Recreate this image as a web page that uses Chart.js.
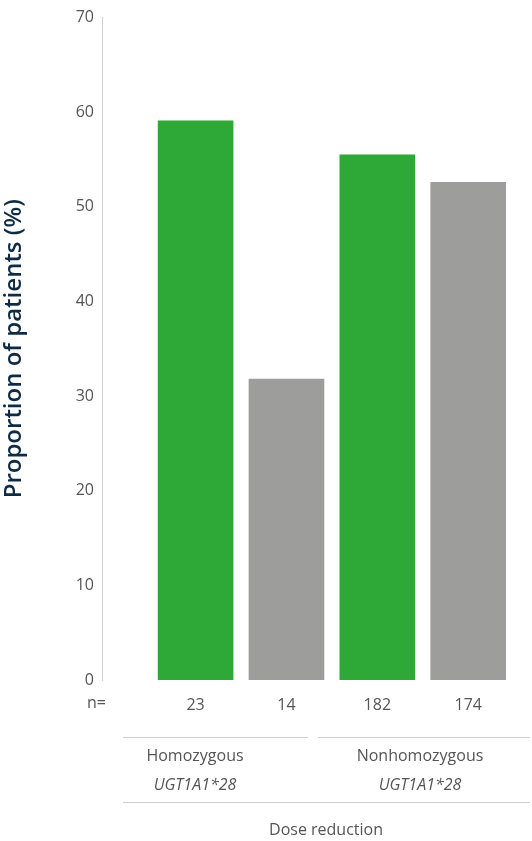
<!DOCTYPE html><html><head><meta charset="utf-8">
<script src="https://cdn.jsdelivr.net/npm/chart.js@4/dist/chart.umd.min.js"></script>
<style>html,body{margin:0;padding:0;background:#fff}#w{width:532px;height:841px}</style></head><body>
<div id="w"><canvas id="c"></canvas></div>
<script>
const positions=[0,1,2,3];
const values=[59.1,31.8,55.5,52.6];
const nLabels=['23','14','182','174'];
const colors=['#2ea836','#9d9d9b','#2ea836','#9d9d9b'];
const groups=[{l1:'Homozygous',l2:'UGT1A1*28'},{l1:'Nonhomozygous',l2:'UGT1A1*28'}];
const yTicks=[0,10,20,30,40,50,60,70];
const bottomTitle='Dose reduction';
const ext={id:'ext',afterDraw(ch){const c=ch.ctx,x=ch.scales.x;c.save();
c.fillStyle='#555';c.font='16px "Open Sans", Lato, sans-serif';c.textAlign='center';c.textBaseline='middle';
nLabels.forEach((t,i)=>c.fillText(t,x.getPixelForValue(positions[i]),705));
c.textAlign='right';c.fillText('n=',106,703);c.textAlign='center';
c.strokeStyle='#cfcfcf';c.lineWidth=1;
const segs=[[123,308],[318,530]],mids=[195,420];
groups.forEach((g,k)=>{c.beginPath();c.moveTo(segs[k][0],737.5);c.lineTo(segs[k][1],737.5);c.stroke();
c.font='16px "Open Sans", Lato, sans-serif';c.fillText(g.l1,mids[k],756);
c.font='italic 16px "Open Sans", Lato, sans-serif';c.fillText(g.l2,mids[k],785);});
c.beginPath();c.moveTo(123,802.5);c.lineTo(530,802.5);c.stroke();
c.font='16px "Open Sans", Lato, sans-serif';c.fillText(bottomTitle,326,830);
c.restore();}};
new Chart(document.getElementById('c'),{type:'bar',
data:{datasets:[{data:positions.map((p,i)=>({x:p,y:values[i]})),backgroundColor:colors,barThickness:75}]},
options:{responsive:true,maintainAspectRatio:false,animation:false,
layout:{padding:{top:2,bottom:153,right:2,left:0}},
plugins:{legend:{display:false},tooltip:{enabled:false}},
scales:{x:{type:'linear',offset:false,min:-1.03,max:3.68,ticks:{display:false},grid:{display:false},border:{display:false}},
y:{min:0,max:70,afterFit:s=>{s.width=102},afterBuildTicks:s=>{s.ticks=yTicks.map(v=>({value:v}))},
ticks:{color:'#555',font:{size:16,family:'"Open Sans", Lato, sans-serif'},padding:8},
grid:{display:false,drawTicks:false},border:{display:true,color:'#cfcfcf',width:1},
title:{display:true,text:'Proportion of patients (%)',color:'#0d2b45',font:{size:24,weight:'600',family:'"Open Sans", Lato, sans-serif'},padding:{top:0,bottom:6}}}}},
plugins:[ext]});
</script></body></html>
